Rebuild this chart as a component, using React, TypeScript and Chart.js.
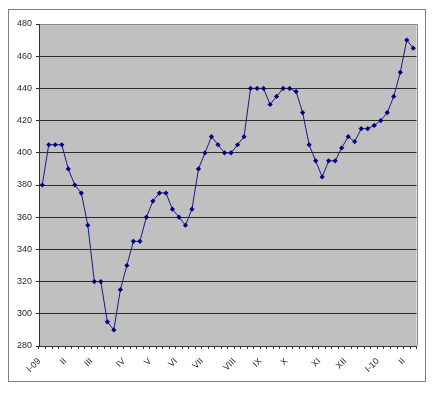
import React, { useEffect, useRef } from "react";
import { Chart, registerables } from "chart.js";

Chart.register(...registerables);

const values: number[] = [
  380, 405, 405, 405, 390, 380, 375, 355, 320, 320, 295, 290, 315, 330, 345, 345,
  360, 370, 375, 375, 365, 360, 355, 365, 390, 400, 410, 405, 400, 400, 405, 410,
  440, 440, 440, 430, 435, 440, 440, 438, 425, 405, 395, 385, 395, 395, 403, 410,
  407, 415, 415, 417, 420, 425, 435, 450, 470, 465,
];
const monthLabels: string[] = ["I-09", "II", "III", "IV", "V", "VI", "VII", "VIII", "IX", "X", "XI", "XII", "I-10", "II"];
const monthStartWeek: number[] = [0, 4, 8, 13, 17, 21, 25, 30, 34, 38, 43, 47, 52, 56];
const yMin = 280;
const yMax = 480;
const yStep = 20;

const W = 420;
const H = 378;

export default function App() {
  const ref = useRef<HTMLCanvasElement | null>(null);

  useEffect(() => {
    if (!ref.current) return;
    const labels = values.map((_, i) => {
      const k = monthStartWeek.indexOf(i);
      return k >= 0 ? monthLabels[k] : "";
    });

    const bgPlugin = {
      id: "bgPlugin",
      beforeDraw(chart: any) {
        const { ctx, chartArea: a } = chart;
        ctx.save();
        ctx.fillStyle = "#ffffff";
        ctx.fillRect(0, 0, chart.width, chart.height);
        ctx.strokeStyle = "#7f7f7f";
        ctx.lineWidth = 1;
        ctx.strokeRect(0.5, 1.5, 417, 372);
        ctx.fillStyle = "#c0c0c0";
        ctx.fillRect(a.left, a.top, a.right - a.left, a.bottom - a.top);
        ctx.restore();
      },
      beforeDatasetsDraw(chart: any) {
        const { ctx, chartArea: a } = chart;
        ctx.save();
        ctx.strokeStyle = "#8a8a8a";
        ctx.lineWidth = 1;
        ctx.beginPath();
        ctx.moveTo(a.left + 1, Math.round(a.top) + 0.5);
        ctx.lineTo(Math.round(a.right) + 0.5, Math.round(a.top) + 0.5);
        ctx.lineTo(Math.round(a.right) + 0.5, a.bottom);
        ctx.stroke();
        ctx.restore();
      },
    };

    const chart = new Chart(ref.current, {
      type: "line",
      data: {
        labels,
        datasets: [
          {
            data: values,
            borderColor: "#1a1a80",
            backgroundColor: "#000080",
            borderWidth: 1,
            pointStyle: "rectRot",
            pointRadius: 2.6,
            pointBorderWidth: 0,
            pointBackgroundColor: "#000080",
            tension: 0,
          },
        ],
      },
      options: {
        responsive: false,
        animation: false,
        events: [],
        layout: { padding: { left: 0, top: 16, right: 9, bottom: 0 } },
        plugins: { legend: { display: false }, tooltip: { enabled: false } },
        scales: {
          x: {
            type: "category",
            offset: true,
            grid: {
              offset: true,
              drawOnChartArea: false,
              drawTicks: true,
              tickLength: 3,
              color: "#333333",
            },
            border: { display: true, color: "#333333", width: 1 },
            ticks: {
              autoSkip: false,
              minRotation: 45,
              maxRotation: 45,
              padding: 7,
              labelOffset: -3,
              color: "#2a2a2a",
              font: { family: "'Liberation Sans', Arial, sans-serif", size: 9 },
            },
            afterFit(scale: any) {
              scale.height = 40;
            },
          },
          y: {
            min: yMin,
            max: yMax,
            grid: {
              color: "#2a2a2a",
              lineWidth: 1,
              drawTicks: true,
              tickLength: 3,
            },
            border: { display: true, color: "#333333", width: 1 },
            ticks: {
              stepSize: yStep,
              padding: 4,
              color: "#2a2a2a",
              font: { family: "'Liberation Sans', Arial, sans-serif", size: 9 },
            },
            afterFit(scale: any) {
              scale.width = 31;
            },
          },
        },
      },
      plugins: [bgPlugin],
    });
    return () => chart.destroy();
  }, []);

  return (
    <div style={{ width: W, height: H }}>
      <canvas ref={ref} width={W} height={H} style={{ display: "block", width: W, height: H }} />
    </div>
  );
}
